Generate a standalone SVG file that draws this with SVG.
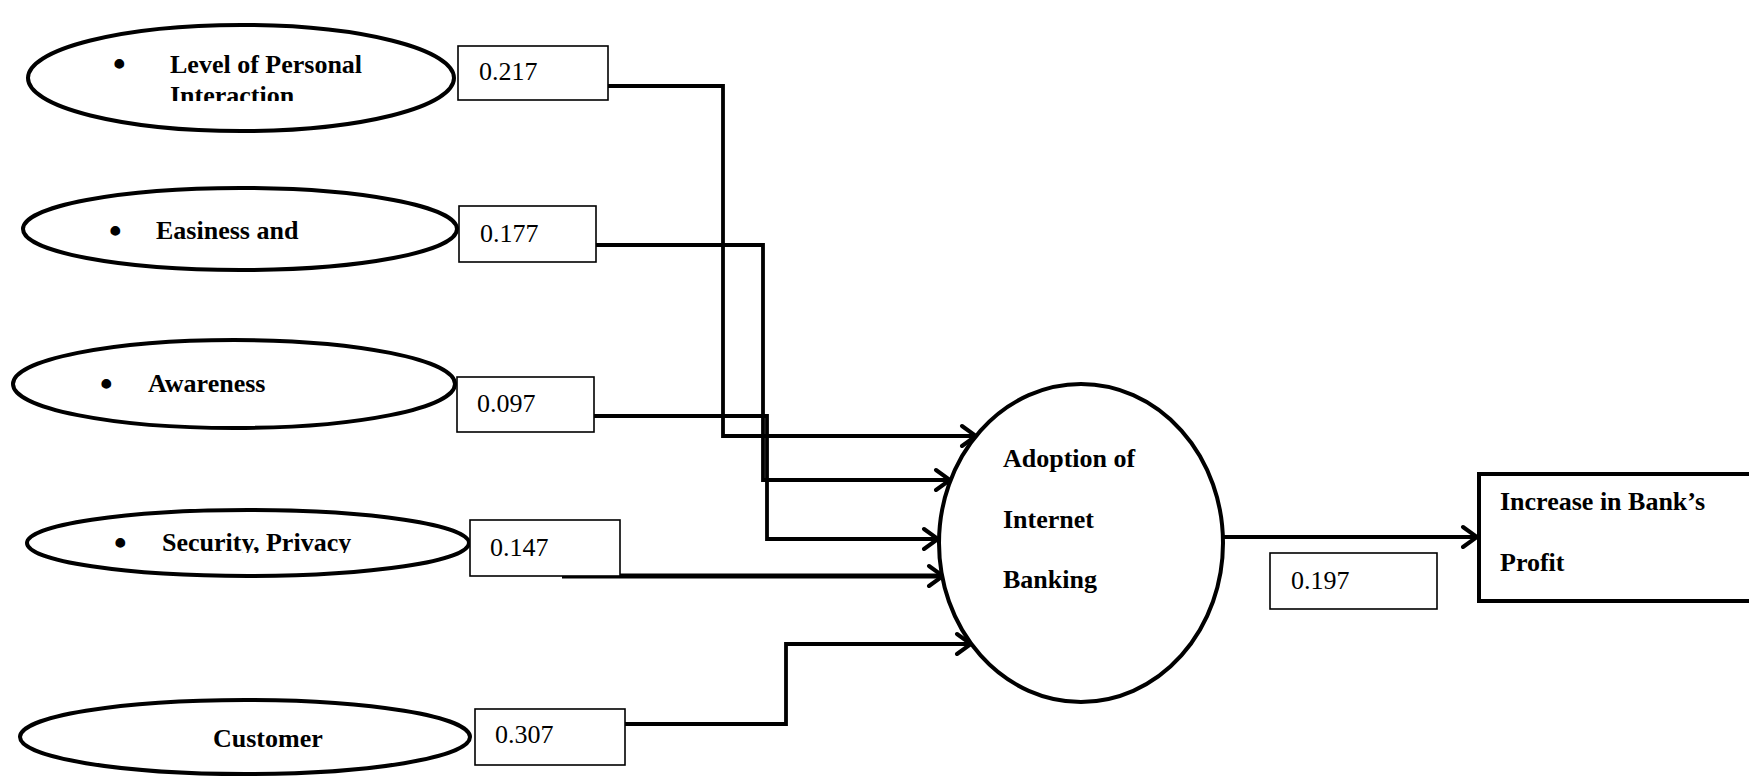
<svg xmlns="http://www.w3.org/2000/svg" width="1749" height="776" viewBox="0 0 1749 776">
<style>
.ell{fill:#fff;stroke:#000;stroke-width:4}
.box{fill:#fff;stroke:#000;stroke-width:1.6}
.lbl{font-family:"Liberation Serif","Times New Roman",serif;font-weight:bold;font-size:26px;fill:#000}
.bul{font-family:"Liberation Serif","Times New Roman",serif;font-weight:bold;font-size:36px;fill:#000}
.num{font-family:"Liberation Serif","Times New Roman",serif;font-size:26px;fill:#000}
.con{fill:none;stroke:#000;stroke-width:3.8;stroke-linejoin:miter}
</style>
<defs>
<marker id="arr" markerUnits="userSpaceOnUse" markerWidth="24" markerHeight="28" viewBox="0 0 24 28" refX="21" refY="14" orient="auto">
<path d="M7,4 L21,14 L7,24" fill="none" stroke="#000" stroke-width="4" stroke-linecap="round" stroke-linejoin="miter"/>
</marker>
<clipPath id="clip1"><rect x="0" y="0" width="460" height="101"/></clipPath>
<clipPath id="clip4"><rect x="0" y="500" width="470" height="53"/></clipPath>
<filter id="shadow" x="-5%" y="-200%" width="110%" height="500%"><feGaussianBlur stdDeviation="1.5"/></filter>
</defs>
<rect width="1749" height="776" fill="#fff"/>

<g id="connectors">
<path class="con" d="M608,86 H723 V436 H976" marker-end="url(#arr)"/>
<path class="con" d="M596,245 H763 V480 H950" marker-end="url(#arr)"/>
<path class="con" d="M594,416 H767 V539 H938" marker-end="url(#arr)"/>
<line x1="565" y1="580" x2="940" y2="580" stroke="#888" stroke-width="5" filter="url(#shadow)"/>
<line x1="562" y1="576" x2="943" y2="576" stroke="#000" stroke-width="5" marker-end="url(#arr)"/>
<path class="con" d="M625,724 H786 V644 H971" marker-end="url(#arr)"/>
<path class="con" d="M1224,537 H1477" marker-end="url(#arr)"/>
</g>

<g id="node-personal">
<ellipse class="ell" cx="241" cy="78" rx="213" ry="53"/>
<g clip-path="url(#clip1)">
<text class="bul" x="113" y="76">•</text>
<text class="lbl" x="170" y="73">Level of Personal</text>
<text class="lbl" x="170" y="104">Interaction</text>
</g>
</g>
<g id="box-0217"><rect class="box" x="458" y="46" width="150" height="54"/><text class="num" x="479" y="80">0.217</text></g>

<g id="node-easiness">
<ellipse class="ell" cx="240" cy="229" rx="217" ry="41"/>
<text class="bul" x="109" y="243">•</text>
<text class="lbl" x="156" y="239">Easiness and</text>
</g>
<g id="box-0177"><rect class="box" x="459" y="206" width="137" height="56"/><text class="num" x="480" y="242">0.177</text></g>

<g id="node-awareness">
<ellipse class="ell" cx="234" cy="384" rx="221" ry="44"/>
<text class="bul" x="100" y="396">•</text>
<text class="lbl" x="148" y="392">Awareness</text>
</g>
<g id="box-0097"><rect class="box" x="457" y="377" width="137" height="55"/><text class="num" x="477" y="412">0.097</text></g>

<g id="node-security">
<ellipse class="ell" cx="248" cy="543" rx="221" ry="33"/>
<g clip-path="url(#clip4)">
<text class="bul" x="114" y="555">•</text>
<text class="lbl" x="162" y="551">Security, Privacy</text>
</g>
</g>
<g id="box-0147"><rect class="box" x="470" y="520" width="150" height="56"/><text class="num" x="490" y="556">0.147</text></g>

<g id="node-customer">
<ellipse class="ell" cx="245" cy="737" rx="225" ry="37"/>
<text class="lbl" x="213" y="747">Customer</text>
</g>
<g id="box-0307"><rect class="box" x="475" y="709" width="150" height="56"/><text class="num" x="495" y="743">0.307</text></g>

<g id="node-adoption">
<ellipse class="ell" cx="1081" cy="543" rx="142" ry="159"/>
<text class="lbl" x="1003" y="467">Adoption of</text>
<text class="lbl" x="1003" y="528">Internet</text>
<text class="lbl" x="1003" y="588">Banking</text>
</g>

<g id="box-0197"><rect class="box" x="1270" y="553" width="167" height="56"/><text class="num" x="1291" y="589">0.197</text></g>

<g id="node-profit">
<rect x="1479" y="474" width="300" height="127" fill="#fff" stroke="#000" stroke-width="4"/>
<text class="lbl" x="1500" y="510">Increase in Bank’s</text>
<text class="lbl" x="1500" y="571">Profit</text>
</g>
</svg>
